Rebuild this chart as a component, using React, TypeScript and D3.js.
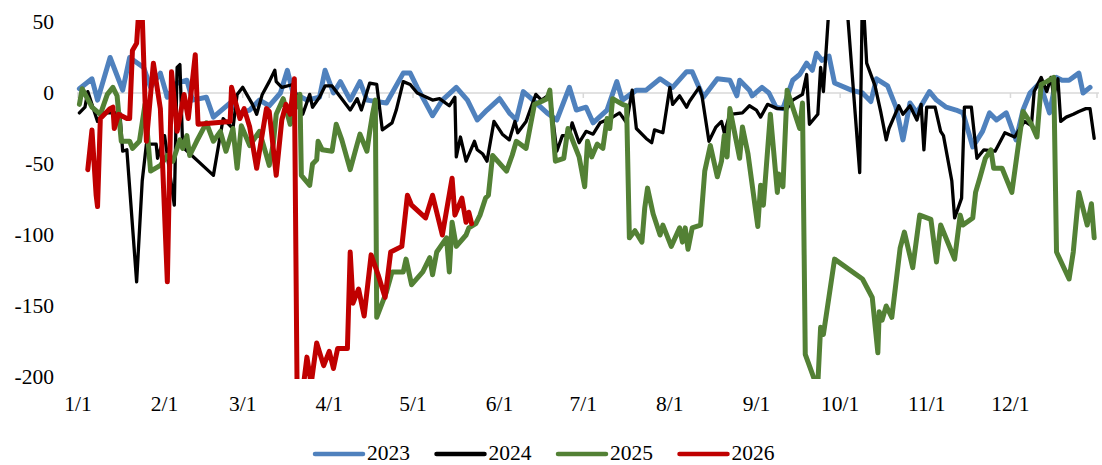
import React from "react";
import * as d3 from "d3";

// x positions are day of year (0 = Jan 1)
const monthStarts = [0, 31, 59, 90, 120, 151, 181, 212, 243, 273, 304, 334];
const monthLabels = ["1/1", "2/1", "3/1", "4/1", "5/1", "6/1", "7/1", "8/1", "9/1", "10/1", "11/1", "12/1"];
const yTicks = [50, 0, -50, -100, -150, -200];
const seriesNames = ["2023", "2024", "2025", "2026"];

const s2023: [number, number][] = [
  [0.5, 3], [5, 10], [7, -5], [11.5, 25], [16, 2], [18.5, 25], [23.5, 18], [26, 4], [29.5, 14], [32, -3],
  [35.5, 7], [39, 9], [41, -5], [46, -3], [48.5, -17], [54.5, -7], [58, -14], [61.5, -12], [65, -5], [68.5, -9],
  [72.5, 0], [75, 16], [77, 0], [82, -5], [86.5, -3], [88.5, 16], [91.5, 0], [94, 8], [97.5, -5], [101, 8],
  [103.5, -5], [110.5, -7], [116.5, 14], [119, 14], [121.5, 4], [127, -16], [130.5, -5], [135.5, 4], [139.5, -5],
  [143, -19], [146.5, -12], [151, -4], [154.5, -14], [157, -19], [159.5, 1], [163, -5], [168, -14], [171.5, -19],
  [176, 4], [178.5, -12], [182, -10], [184.5, -21], [189.5, -12], [193, 8], [195, -5], [200, 2], [203.5, 2],
  [208.5, 10], [213, 4], [218, 15], [220, 15], [224, -3], [229, 10], [233.5, 9], [236, -2], [237, 9], [240.5, 2],
  [241.5, -2], [245, 4], [247.5, 0], [250, -10], [252.5, -11], [256, 9], [258.5, 13], [261, 21], [263, 16],
  [264.5, 28], [266.5, 23], [269, 26], [271, 7], [277, 2], [281, 0], [284, -6], [286, 10], [290, 5], [293, -10],
  [295.5, -33], [298, -7], [300.5, -14], [305, 1], [307.5, -5], [311, -10], [314.5, -12], [317, -14], [320.5, -38],
  [324, -27], [326.5, -14], [329, -19], [332.5, -14], [336, -33], [338.5, -12], [341, 0], [344.5, 7], [348, -14],
  [350.5, 11], [352.5, 9], [355, 9], [358.5, 14], [360, 0], [362.5, 4],
];

const s2024: [number, number][] = [
  [0.5, -14], [2.5, -10], [3.5, 1], [7, -20], [9, -14], [12.5, -14], [15, -14], [16, -41], [17.5, -40], [21, -133],
  [23, -62], [24.5, -36], [28, -36], [28.5, -46], [31, -30], [34.5, -79], [35.5, 18], [36.5, 20], [37.5, -38],
  [48.5, -58], [52, -18], [55.5, -25], [57, -1], [59, 4], [62.5, -8], [64, -15], [66, -1], [68.5, 8], [70.5, 16],
  [71, 8], [73, 4], [77, 6], [80.5, -15], [83, -1], [84, -10], [86.5, -3], [88.5, 5], [91, 5], [97.5, -12],
  [100, -4], [101.5, -12], [104.5, 7], [107, 6], [109, -26], [112.5, -21], [114, -12], [116.5, 8], [119, 6],
  [121.5, 0], [127, -5], [129.5, -4], [133, -9], [135, -3], [135.5, -45], [137, -31], [139, -48], [142, -34],
  [143, -40], [145, -43], [146.5, -48], [149, -20], [152, -29], [154.5, -33], [156.5, -20], [157.5, -28],
  [160.5, -20], [164, -1], [166, -5], [169, -1], [171.5, -41], [173.5, -30], [176, -30], [177, -21], [179.5, -35],
  [182, -27], [184.5, -29], [187, -21], [191.5, -17], [194, -14], [196.5, -21], [198.5, 2], [200, -25],
  [203.5, -32], [205.5, -35], [206.5, -26], [209.5, -28], [212, 4], [213, -8], [215.5, -2], [218, -10], [219, -6],
  [222.5, 4], [223.5, -2], [226, -34], [228.5, -24], [230.5, -20], [231.5, -28], [233.5, -15], [238, -14],
  [240.5, -9], [243, -12], [244.5, -17], [247, -8], [250.5, -11], [254, -11], [256, -5], [259.5, -1], [261, 13],
  [262, -22], [265, -15], [266, 18], [267, 1], [272, 150], [280, -56], [281, 75], [282.5, 21], [285.5, 5],
  [287.5, -13], [289.5, -33], [290.5, -25], [294, -9], [295.5, -15], [298, -9], [300.5, -19], [302, -8], [303, -40],
  [304, -10], [307, -10], [309, -27], [310, -30], [313, -62], [314, -88], [316.5, -74], [317.5, -10], [320, -10],
  [322, -46], [324.5, -40], [328.5, -41], [332, -28], [335.5, -31], [339, -20], [341.5, -23], [342.5, 1], [345, 11],
  [347, 1], [348.5, 11], [349.5, -2], [351, 10], [352, -20], [354, -17], [356.5, -15], [358.5, -13], [361, -11],
  [362.5, -11], [364, -32],
];

const s2025: [number, number][] = [
  [0.5, -8], [1.5, 3], [5, -10], [8, -15], [10.5, -1], [12.5, 4], [14, -2], [15.5, -34], [18.5, -34], [19.5, -39],
  [22, -34], [24, -8], [26, -55], [29.5, -51], [32, -44], [34, -48], [36.5, -33], [37.5, -39], [39, -30], [40, -44],
  [42.5, -34], [46, -21], [48.5, -34], [51, -27], [53, -41], [55.5, -25], [57, -53], [58.5, -23], [61.5, -37],
  [65, -27], [67.5, -44], [68.5, -51], [70, -35], [71, -15], [73.5, -4], [76, -22], [77.5, -12], [79.5, -1],
  [80, -58], [83, -65], [84, -50], [85.5, -47], [86, -34], [87.5, -40], [91, -41], [92.5, -22], [94.5, -33],
  [97.5, -54], [100, -36], [101, -29], [103.5, -41], [104.5, -27], [105.5, -15], [106.5, -5], [107, -158],
  [110.5, -140], [112.5, -126], [116.5, -126], [117.5, -117], [119.5, -135], [123.5, -126], [126, -116],
  [127, -128], [128.5, -112], [132, -102], [133, -126], [134, -91], [135.5, -108], [139, -100], [140, -95],
  [142.5, -92], [144, -86], [146, -74], [147, -72], [148.5, -44], [153.5, -55], [155.5, -44], [157, -34],
  [160.5, -39], [163.5, -8], [166, -6], [168, -4], [169, 2], [171, -48], [174, -46], [175.5, -25], [178.5, -40],
  [179.5, -45], [181.5, -66], [182.5, -34], [184, -45], [186, -36], [188, -39], [189.5, -18], [190.5, -25],
  [191.5, -4], [195, -8], [196.5, -9], [197.5, -102], [199.5, -97], [202, -105], [203, -81], [204, -67], [206, -85],
  [208.5, -100], [209.5, -93], [212.5, -108], [215.5, -95], [216.5, -105], [217.5, -95], [218.5, -110], [220, -95],
  [223, -93], [224.5, -55], [226.5, -37], [229, -59], [230.5, -48], [231.5, -30], [232.5, -45], [233.5, -11],
  [237, -46], [238, -24], [240, -43], [243.5, -94], [244.5, -65], [245.5, -79], [248, -15], [250.5, -70],
  [251, -57], [252.5, -66], [254, 2], [258.5, -25], [259.5, -7], [260.5, -184], [264, -203], [265, -205],
  [266, -165], [267, -170], [271, -117], [281, -131], [284.5, -144], [286.5, -183], [287, -154], [288, -160],
  [289.5, -150], [291.5, -158], [294.5, -109], [296, -98], [299, -123], [301.5, -86], [305.5, -89], [307.5, -119],
  [309, -93], [314, -117], [316, -86], [317, -93], [320.5, -88], [321.5, -70], [323, -60], [325, -46], [327, -40],
  [328, -53], [331, -53], [334.5, -70], [338.5, -13], [341.5, -22], [343.5, -31], [345, 6], [347, 8], [349.5, 11],
  [350.5, -112], [355, -131], [356.5, -112], [358.5, -70], [361.5, -93], [363, -78], [364, -102],
];

const s2026: [number, number][] = [
  [3.5, -54], [5, -26], [6.5, -72], [7, -80], [8, -18], [11.5, -11], [12.5, -10], [13, -25], [14.5, -15],
  [17.5, -18], [18.5, -18], [19.5, 30], [21, 35], [22, 65], [23, 55], [24.5, -34], [27, 21], [29.5, -11],
  [32, -133], [33.5, 15], [35.5, -27], [38, -1], [39.5, -18], [42, 27], [43, -22], [54.5, -20], [55, 4], [58, -18],
  [59.5, -11], [61.5, -24], [64, -53], [67.5, -11], [68.5, -13], [71, -58], [73, -19], [74.5, -8], [76, -15],
  [77.5, 10], [78.5, -215], [80.5, -210], [82, -186], [83.5, -205], [85.5, -176], [88, -192], [90, -182],
  [91.5, -194], [93, -180], [96.5, -180], [97.5, -112], [98.5, -148], [100.5, -138], [102.5, -157], [105, -114],
  [107.5, -128], [110, -144], [112, -112], [116, -108], [118, -72], [119.5, -79], [124.5, -88], [127, -72],
  [130.5, -100], [134, -60], [135, -86], [137.5, -74], [139, -91], [140, -84], [141, -92],
];

const seriesData = [s2023, s2024, s2025, s2026];
const colors = ["#4f81bd", "#000000", "#538135", "#c00000"];
const widths = [5, 3.3, 5, 5];

const W = 1102;
const H = 465;

const x = d3.scaleLinear().domain([0, 365]).range([78, 1097]);
const y = d3.scaleLinear().domain([-200, 50]).range([377, 22]);

const line = d3
  .line<[number, number]>()
  .x((d) => x(d[0]))
  .y((d) => y(d[1]));

const App = () => {
  const fontSize = 21.5;
  return (
    <svg
      width={W}
      height={H}
      style={{ position: "absolute", left: 0, top: 0, background: "#fff" }}
      fontFamily="'Liberation Serif', 'Times New Roman', serif"
      fontSize={fontSize}
    >
      <defs>
        <clipPath id="plotClip">
          <rect x={x(0) - 3} y={y(50) - 2} width={x(365) - x(0) + 6} height={y(-200) - y(50) + 4} />
        </clipPath>
      </defs>

      {/* zero axis with month ticks */}
      <line x1={x(0) - 1} x2={x(365) + 2} y1={y(0)} y2={y(0)} stroke="#d9d9d9" strokeWidth={1.5} />
      {[...monthStarts, 365].map((d) => (
        <line key={d} x1={x(d)} x2={x(d)} y1={y(0)} y2={y(0) + 5} stroke="#d9d9d9" strokeWidth={1.5} />
      ))}

      {yTicks.map((v) => (
        <text key={v} x={54} y={y(v) + 7} textAnchor="end" fill="#000">
          {v}
        </text>
      ))}

      {monthStarts.map((d, i) => (
        <text key={d} x={x(d)} y={411} textAnchor="middle" fill="#000">
          {monthLabels[i]}
        </text>
      ))}

      <g clipPath="url(#plotClip)">
        {seriesData.map((s, i) => (
          <path
            key={seriesNames[i]}
            d={line(s) || ""}
            fill="none"
            stroke={colors[i]}
            strokeWidth={widths[i]}
            strokeLinejoin="round"
            strokeLinecap="round"
          />
        ))}
      </g>

      {seriesNames.map((name, i) => {
        const lx = 315 + i * 121.5;
        return (
          <g key={name}>
            <line x1={lx} x2={lx + 48} y1={454} y2={454} stroke={colors[i]} strokeWidth={4.5} strokeLinecap="round" />
            <text x={lx + 52} y={460} fill="#000">
              {name}
            </text>
          </g>
        );
      })}
    </svg>
  );
};

export default App;
